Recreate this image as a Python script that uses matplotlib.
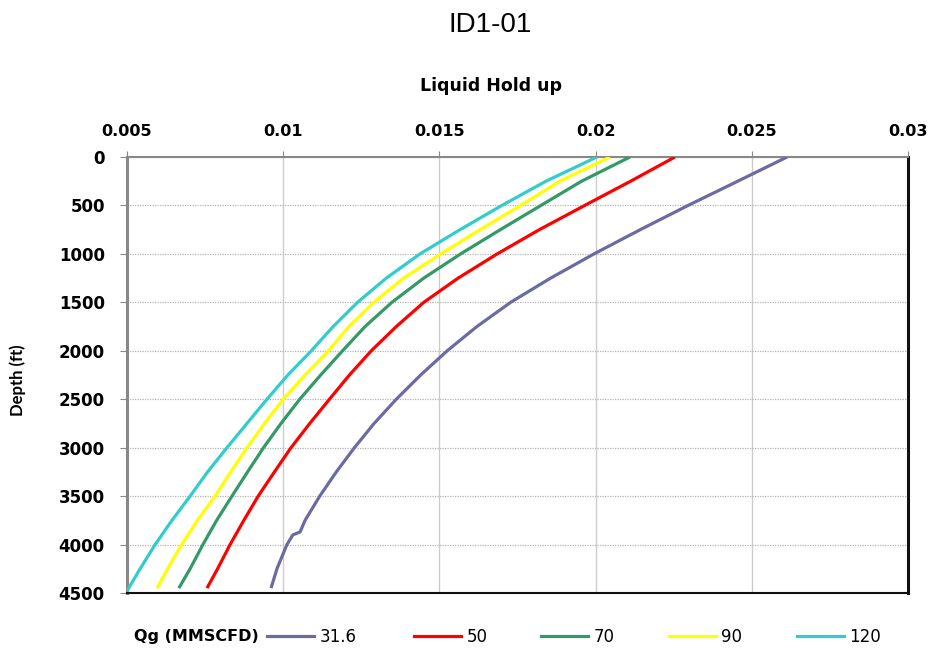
import matplotlib
matplotlib.use("Agg")
import matplotlib.pyplot as plt
from matplotlib.lines import Line2D

# Depth points (ft) and liquid hold-up for each gas rate Qg (MMSCFD)
depth_ft = [0, 250, 500, 750, 1000, 1250, 1500, 1750, 2000, 2250, 2500,
            2750, 3000, 3250, 3500, 3750, 4000, 4250, 4450]

depth_31_6 = [0, 250, 500, 750, 1000, 1250, 1500, 1750, 2000, 2250, 2500,
              2750, 3000, 3250, 3500, 3750, 3870, 3900, 4000, 4250, 4450]
holdup_31_6 = [0.02613, 0.02455, 0.02296, 0.02143, 0.01995, 0.01856, 0.01728,
               0.01620, 0.01525, 0.01440, 0.01362, 0.01291, 0.01228, 0.01170,
               0.01117, 0.01070, 0.01054, 0.01031, 0.01012, 0.00980, 0.00961]
holdup_50 = [0.02254, 0.02112, 0.01965, 0.01820, 0.01685, 0.01560, 0.01450,
             0.01362, 0.01282, 0.01212, 0.01148, 0.01085, 0.01025, 0.00972,
             0.00920, 0.00874, 0.00830, 0.00790, 0.00756]
holdup_70 = [0.02110, 0.01955, 0.01825, 0.01695, 0.01568, 0.01450, 0.01348,
             0.01262, 0.01190, 0.01120, 0.01053, 0.00993, 0.00937, 0.00886,
             0.00836, 0.00787, 0.00743, 0.00702, 0.00666]
holdup_90 = [0.02046, 0.01885, 0.01760, 0.01630, 0.01505, 0.01385, 0.01290,
             0.01210, 0.01145, 0.01070, 0.01000, 0.00940, 0.00884, 0.00832,
             0.00782, 0.00725, 0.00675, 0.00630, 0.00596]
depth_120 = [0, 250, 500, 750, 1000, 1250, 1500, 1750, 2000, 2250, 2500,
             2750, 3000, 3250, 3500, 3750, 4000, 4250, 4480]
holdup_120 = [0.02004, 0.01841, 0.01700, 0.01566, 0.01438, 0.01330, 0.01238,
              0.01160, 0.01090, 0.01015, 0.00948, 0.00884, 0.00820, 0.00758,
              0.00702, 0.00644, 0.00590, 0.00542, 0.00500]

series_labels = ["31.6", "50", "70", "90", "120"]
series_colors = ["#6B6BA3", "#FF0000", "#339966", "#FFFF00", "#33CCCC"]

x_ticks = [0.005, 0.01, 0.015, 0.02, 0.025, 0.03]
x_tick_labels = ["0.005", "0.01", "0.015", "0.02", "0.025", "0.03"]
y_ticks = [0, 500, 1000, 1500, 2000, 2500, 3000, 3500, 4000, 4500]

W, H = 932, 648
fig = plt.figure(figsize=(W / 100, H / 100), dpi=100)
ax = fig.add_axes([127 / W, 1 - 593 / H, (908 - 127) / W, (593 - 157) / H])

series = [
    (holdup_31_6, depth_31_6),
    (holdup_50, depth_ft),
    (holdup_70, depth_ft),
    (holdup_90, depth_ft),
    (holdup_120, depth_120),
]
for (xs, ys), color, label in zip(series, series_colors, series_labels):
    ax.plot(xs, ys, color=color, lw=2.3, label=label, solid_joinstyle="round",
            solid_capstyle="butt", zorder=3)

ax.set_xlim(0.005, 0.03)
ax.set_ylim(4500, 0)
ax.xaxis.tick_top()
ax.set_xticks(x_ticks)
ax.set_xticklabels(x_tick_labels, fontfamily="DejaVu Sans", fontweight="bold",
                   fontsize=11.5)
ax.set_yticks(y_ticks)
ax.set_yticklabels([str(v) for v in y_ticks], fontfamily="DejaVu Sans",
                   fontweight="bold", fontsize=12)
ax.tick_params(axis="x", direction="out", length=4, color="#888888",
               pad=9, top=True, bottom=False)
ax.tick_params(axis="y", direction="out", length=5, color="#888888", pad=11)

# gridlines: solid vertical, dotted horizontal
ax.grid(axis="x", color="#cccccc", lw=1.0, linestyle="-", zorder=0)
ax.grid(axis="y", color="#b5b5b5", lw=0.9, linestyle=(0, (1, 1)), zorder=0)
ax.set_axisbelow(True)

ax.spines["left"].set_color("#888888")
ax.spines["left"].set_linewidth(2.2)
ax.spines["top"].set_color("#888888")
ax.spines["top"].set_linewidth(1.5)
ax.spines["right"].set_color("#111111")
ax.spines["right"].set_linewidth(2.2)
ax.spines["bottom"].set_color("#111111")
ax.spines["bottom"].set_linewidth(1.5)

fig.text(490 / W, 1 - 25 / H, "ID1-01", ha="center", va="center",
         fontfamily="Liberation Sans", fontsize=20)
fig.text(491 / W, 1 - 86 / H, "Liquid Hold up", ha="center", va="center",
         fontfamily="DejaVu Sans", fontweight="bold", fontsize=12.5)
fig.text(18 / W, 1 - 380 / H, "Depth (ft)", ha="center", va="center",
         rotation=90, fontfamily="Lato", fontweight="bold", fontsize=12)

fig.text(134 / W, 1 - 637 / H, "Qg (MMSCFD)", ha="left", va="center",
         fontfamily="DejaVu Sans", fontweight="bold", fontsize=11.5)

# one legend entry per gas rate, laid out along the bottom row
entry_x = [267, 414, 541, 669, 797]
for xpix, color, label in zip(entry_x, series_colors, series_labels):
    fig.legend([Line2D([], [], color=color, lw=2.3)], [label],
               loc="center left", bbox_to_anchor=(xpix / W, 1 - 637 / H),
               frameon=False, borderaxespad=0, borderpad=0,
               handlelength=2.8, handletextpad=0.35,
               prop={"family": "DejaVu Sans", "size": 12})

fig.savefig("out.png", dpi=100)
